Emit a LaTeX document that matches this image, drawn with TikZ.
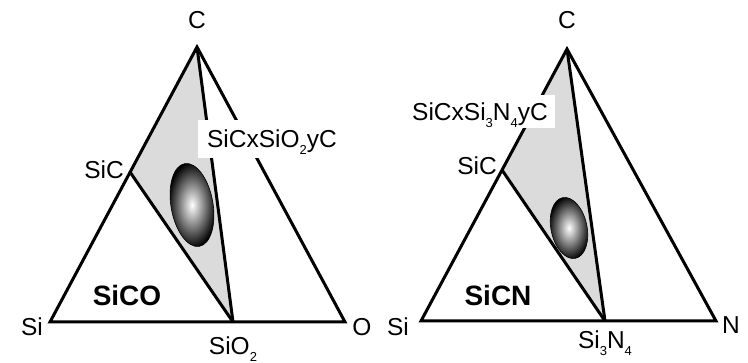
\documentclass[tikz,border=0pt]{standalone}
\usepackage{fontspec}
\setmainfont{Liberation Sans}
\newcommand\lowsub[1]{\raisebox{-0.28em}{\fontsize{13}{13}\selectfont #1}}
\begin{document}
\begin{tikzpicture}[x=1pt,y=-1pt,
  edge/.style={line width=3pt,line join=miter},
  lab/.style={font=\fontsize{24.5}{26}\selectfont,inner sep=0pt},
  big/.style={font=\fontsize{28}{30}\selectfont\bfseries,inner sep=0pt},
  tag/.style={font=\fontsize{24.5}{26}\selectfont,fill=white,inner sep=0pt,minimum height=38pt,text depth=0pt},
  phase/.style={fill=black!14},
  blob/.style={inner color=white,outer color=black}]
\useasboundingbox (0,0) rectangle (748,363);
% ---------- left: SiCO ----------
\coordinate (Si1) at (50,322);
\coordinate (C1) at (197,47);
\coordinate (O1) at (345,322);
\coordinate (SiC1) at (130,172);
\coordinate (SiO1) at (233,322);
\fill[phase] (C1) -- (SiC1) -- (SiO1) -- cycle;
\shade[blob,rotate around={10:(192,205)}] (192,205) ellipse [x radius=21pt,y radius=42pt];
\draw[line width=0.6pt,rotate around={10:(192,205)}] (192,205) ellipse [x radius=21pt,y radius=42pt];
\draw[edge] (Si1) -- (C1) -- (O1) -- cycle;
\draw[edge] (SiC1) -- (SiO1);
\draw[edge] (C1) -- (SiO1);
\node[tag,minimum width=148pt] (t1) at (272,139) {SiCxSiO\lowsub{2}yC};
\node[lab] (lC1) at (197,20) {C};
\node[lab,anchor=east] (lSiC1) at (124,170) {SiC};
\node[lab] (lSi1) at (32,327) {Si};
\node[lab] (lO1) at (362,327) {O};
\node[lab] (lSiO1) at (233,349) {SiO\lowsub{2}};
\node[big] (n1) at (127,295) {SiCO};
% ---------- right: SiCN ----------
\coordinate (Si2) at (421,321);
\coordinate (C2) at (567,49);
\coordinate (N2) at (716,321);
\coordinate (SiC2) at (502,170);
\coordinate (SiN2) at (605,321);
\fill[phase] (C2) -- (SiC2) -- (SiN2) -- cycle;
\shade[blob,rotate around={12:(569,228)}] (569,228) ellipse [x radius=18pt,y radius=31pt];
\draw[line width=0.6pt,rotate around={12:(569,228)}] (569,228) ellipse [x radius=18pt,y radius=31pt];
\draw[edge] (Si2) -- (C2) -- (N2) -- cycle;
\draw[edge] (SiC2) -- (SiN2);
\draw[edge] (C2) -- (SiN2);
\node[tag,minimum width=150pt,minimum height=33pt] (t2) at (480,112) {SiCxSi\lowsub{3}N\lowsub{4}yC};
\node[lab] (lC2) at (567,20) {C};
\node[lab,anchor=east] (lSiC2) at (497,166) {SiC};
\node[lab] (lSi2) at (398,327) {Si};
\node[lab] (lN2) at (731,325) {N};
\node[lab] (lSiN2) at (605,343) {Si\lowsub{3}N\lowsub{4}};
\node[big] (n2) at (498,295) {SiCN};
\end{tikzpicture}
\end{document}
